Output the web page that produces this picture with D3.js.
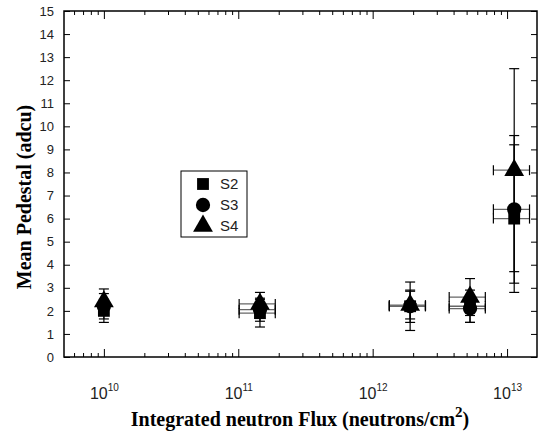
<!DOCTYPE html>
<html>
<head>
<meta charset="utf-8">
<script src="https://cdn.jsdelivr.net/npm/d3@7"></script>
<style>
  body { margin: 0; background: #fff; }
  svg { display: block; }
</style>
</head>
<body>
<div id="chart"></div>
<script>
// data
var flux = [1e10, 1.45e11, 1.9e12, 5.3e12, 1.13e13];
var fluxErr = [0, 0.3, 0.3, 0.3, 0.3]; // fraction of flux
var seriesNames = ["S2", "S3", "S4"];
var s2 = [2.0, 1.9, 2.2, 2.2, 6.0];
var s3 = [2.2, 2.05, 2.2, 2.1, 6.4];
var s4 = [2.4, 2.3, 2.25, 2.6, 8.1];
var s2Err = [0.5, 0.6, 1.05, 0.7, 3.2];
var s3Err = [0.55, 0.5, 0.7, 0.6, 3.2];
var s4Err = [0.55, 0.5, 0.6, 0.8, 4.4];
var yTicks = d3.range(0, 16);
var xMajor = [1e10, 1e11, 1e12, 1e13];

var svgWidth = 542, svgHeight = 435;
var margin = {top: 11, right: 5, bottom: 78, left: 64};
var chartWidth = svgWidth - margin.left - margin.right;
var chartHeight = svgHeight - margin.top - margin.bottom;

var svg = d3.select("#chart").append("svg")
    .attr("width", svgWidth)
    .attr("height", svgHeight);

var chartGroup = svg.append("g")
    .attr("transform", `translate(${margin.left}, ${margin.top})`);

var xScale = d3.scaleLog()
    .domain([5.05e9, 1.67e13])
    .range([0, chartWidth]);
var yScale = d3.scaleLinear()
    .domain([0, 15])
    .range([chartHeight, 0]);

// minor tick values 2..9 of every decade
var xMinor = [];
[1e9, 1e10, 1e11, 1e12, 1e13].forEach(function(p) {
  for (var k = 2; k <= 9; k++) {
    var v = k * p;
    if (v > xScale.domain()[0] && v < xScale.domain()[1]) xMinor.push(v);
  }
});

function styleAxis(g) {
  g.select(".domain").remove();
  g.selectAll("line").attr("stroke", "#000").attr("stroke-width", 1);
}

// bottom axis
chartGroup.append("g")
    .attr("transform", `translate(0, ${chartHeight})`)
    .call(d3.axisBottom(xScale).tickValues(xMinor).tickSize(-4).tickFormat(""))
    .call(styleAxis);
var bottomMajor = chartGroup.append("g")
    .attr("transform", `translate(0, ${chartHeight})`)
    .call(d3.axisBottom(xScale).tickValues(xMajor).tickSize(-8).tickFormat(""))
    .call(styleAxis);

bottomMajor.selectAll(".tick").each(function(d) {
  var t = d3.select(this).append("text")
      .attr("y", 42)
      .attr("fill", "#222")
      .attr("text-anchor", "middle")
      .style("font-family", "'Liberation Sans', Arial, sans-serif")
      .style("font-size", "16px");
  t.append("tspan").text("10");
  t.append("tspan")
      .attr("dy", -8)
      .style("font-size", "10px")
      .text(Math.round(Math.log10(d)));
});

// top axis
chartGroup.append("g")
    .call(d3.axisTop(xScale).tickValues(xMinor).tickSize(-4).tickFormat(""))
    .call(styleAxis);
chartGroup.append("g")
    .call(d3.axisTop(xScale).tickValues(xMajor).tickSize(-8).tickFormat(""))
    .call(styleAxis);

// left axis
var leftAxis = chartGroup.append("g")
    .call(d3.axisLeft(yScale).tickValues(yTicks).tickSize(-6).tickPadding(10))
    .call(styleAxis);
leftAxis.selectAll("text")
    .attr("fill", "#222")
    .style("font-family", "'Liberation Sans', Arial, sans-serif")
    .style("font-size", "13px");

// right axis
chartGroup.append("g")
    .attr("transform", `translate(${chartWidth}, 0)`)
    .call(d3.axisRight(yScale).tickValues(yTicks).tickSize(-6).tickFormat(""))
    .call(styleAxis);

// frame
chartGroup.append("rect")
    .attr("width", chartWidth)
    .attr("height", chartHeight)
    .attr("fill", "none")
    .attr("stroke", "#000")
    .attr("stroke-width", 1.5);

// error bars and markers
var series = [
  {name: "S2", vals: s2, err: s2Err, shape: d3.symbolSquare, size: 140},
  {name: "S3", vals: s3, err: s3Err, shape: d3.symbolCircle, size: 160},
  {name: "S4", vals: s4, err: s4Err, shape: d3.symbolTriangle, size: 170}
];

series.forEach(function(s) {
  var pts = flux.map(function(f, i) {
    return {x: f, y: s.vals[i], e: s.err[i], xe: fluxErr[i]};
  });
  var g = chartGroup.append("g");

  pts.forEach(function(p) {
    var cx = xScale(p.x);
    var y1 = yScale(p.y + p.e), y0 = yScale(p.y - p.e);
    g.append("line").attr("x1", cx).attr("x2", cx).attr("y1", y1).attr("y2", y0)
        .attr("stroke", "#000").attr("stroke-width", 1.2);
    [y1, y0].forEach(function(yy) {
      g.append("line").attr("x1", cx - 5).attr("x2", cx + 5).attr("y1", yy).attr("y2", yy)
          .attr("stroke", "#000").attr("stroke-width", 1.2);
    });
    if (p.xe > 0) {
      var xl = xScale(p.x * (1 - p.xe)), xr = xScale(p.x * (1 + p.xe));
      var cy = yScale(p.y);
      g.append("line").attr("x1", xl).attr("x2", xr).attr("y1", cy).attr("y2", cy)
          .attr("stroke", "#666").attr("stroke-width", 1.3);
      [xl, xr].forEach(function(xx) {
        g.append("line").attr("x1", xx).attr("x2", xx).attr("y1", cy - 5).attr("y2", cy + 5)
            .attr("stroke", "#000").attr("stroke-width", 1.2);
      });
    }
  });

  g.selectAll("path.mark")
      .data(pts)
      .enter()
      .append("path")
      .attr("class", "mark")
      .attr("d", d3.symbol().type(s.shape).size(s.size))
      .attr("transform", function(d) { return `translate(${xScale(d.x)}, ${yScale(d.y)})`; })
      .attr("fill", "#000");
});

// legend
var legend = svg.append("g").attr("transform", "translate(181, 171)");
legend.append("rect")
    .attr("width", 66)
    .attr("height", 66)
    .attr("fill", "#fff")
    .attr("stroke", "#000")
    .attr("stroke-width", 1);
series.forEach(function(s, i) {
  legend.append("path")
      .attr("d", d3.symbol().type(s.shape).size(s.size))
      .attr("transform", `translate(22, ${13 + i * 21})`)
      .attr("fill", "#000");
  legend.append("text")
      .attr("x", 39)
      .attr("y", 18 + i * 21)
      .attr("fill", "#222")
      .style("font-family", "'Liberation Sans', Arial, sans-serif")
      .style("font-size", "15px")
      .text(s.name);
});

// axis titles
svg.append("text")
    .attr("transform", "translate(31, 197) rotate(-90)")
    .attr("text-anchor", "middle")
    .style("font-family", "'Liberation Serif', 'Times New Roman', serif")
    .style("font-weight", "bold")
    .style("font-size", "20px")
    .text("Mean Pedestal (adcu)");

var xt = svg.append("text")
    .attr("x", 300)
    .attr("y", 426)
    .attr("text-anchor", "middle")
    .style("font-family", "'Liberation Serif', 'Times New Roman', serif")
    .style("font-weight", "bold")
    .style("font-size", "20px");
xt.append("tspan").text("Integrated neutron Flux (neutrons/cm");
xt.append("tspan").attr("dy", -9).style("font-size", "15px").text("2");
xt.append("tspan").attr("dy", 9).text(")");
</script>
</body>
</html>
